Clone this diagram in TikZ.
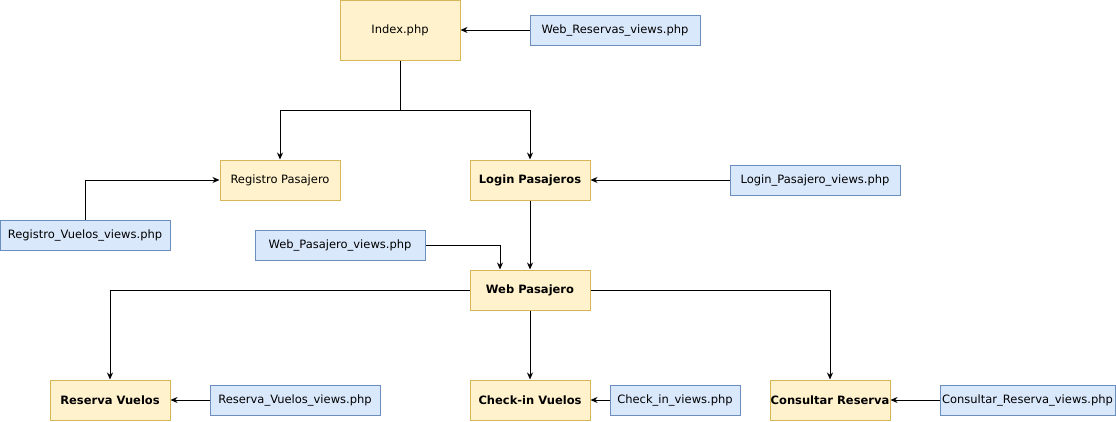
\documentclass[tikz,border=0pt]{standalone}
\usepackage{fontspec}
\setmainfont{DejaVu Sans}
\usetikzlibrary{arrows.meta}
\definecolor{yfill}{HTML}{FFF2CC}
\definecolor{ydraw}{HTML}{D6B656}
\definecolor{bfill}{HTML}{DAE8FC}
\definecolor{bdraw}{HTML}{6C8EBF}
\begin{document}
\begin{tikzpicture}[x=1pt,y=-1pt,
  ybox/.style={draw=ydraw,fill=yfill,line width=1pt,minimum width=120pt,minimum height=40pt,inner sep=0pt,font=\fontsize{11.5}{13}\selectfont},
  bbox/.style={draw=bdraw,fill=bfill,line width=1pt,minimum height=30pt,inner sep=0pt,font=\fontsize{11.5}{13}\selectfont},
  conn/.style={line width=1pt,-{Stealth[length=7pt,width=6pt]}},
  bold/.style={font=\fontsize{11.5}{13}\selectfont\bfseries}]
\useasboundingbox (0,0) rectangle (1116,421);
\node[ybox,minimum height=60pt] (idx) at (400,30) {Index.php};
\node[bbox,minimum width=170pt] (wrv) at (615,30) {Web\_Reservas\_views.php};
\node[ybox] (reg) at (280,180) {Registro Pasajero};
\node[ybox,bold] (log) at (530,180) {Login Pasajeros};
\node[bbox,minimum width=170pt] (lpv) at (815,180) {Login\_Pasajero\_views.php};
\node[bbox,minimum width=170pt] (rvv) at (85,235) {Registro\_Vuelos\_views.php};
\node[bbox,minimum width=170pt] (wpv) at (340,245) {Web\_Pasajero\_views.php};
\node[ybox,bold] (wp) at (530,290) {Web Pasajero};
\node[ybox,bold] (rv) at (110,400) {Reserva Vuelos};
\node[ybox,bold] (ci) at (530,400) {Check-in Vuelos};
\node[ybox,bold] (cr) at (830,400) {Consultar Reserva};
\node[bbox,minimum width=170pt] (rsv) at (295,400) {Reserva\_Vuelos\_views.php};
\node[bbox,minimum width=130pt] (civ) at (675,400) {Check\_in\_views.php};
\node[bbox,minimum width=175pt] (crv) at (1027.5,400) {Consultar\_Reserva\_views.php};
\coordinate (j) at (400,110);
\draw[conn] (wrv.west) -- (idx.east);
\draw[line width=1pt] (idx.south) -- (j);
\draw[conn] (j) -| (reg.north);
\draw[conn] (j) -| (log.north);
\draw[conn] (lpv.west) -- (log.east);
\draw[conn] (rvv.north) |- (reg.west);
\draw[conn] (wpv.east) -| ([xshift=-30pt]wp.north);
\draw[conn] (log.south) -- (wp.north);
\draw[conn] (wp.west) -| (rv.north);
\draw[conn] (wp.south) -- (ci.north);
\draw[conn] (wp.east) -| (cr.north);
\draw[conn] (rsv.west) -- (rv.east);
\draw[conn] (civ.west) -- (ci.east);
\draw[conn] (crv.west) -- (cr.east);
\end{tikzpicture}
\end{document}
